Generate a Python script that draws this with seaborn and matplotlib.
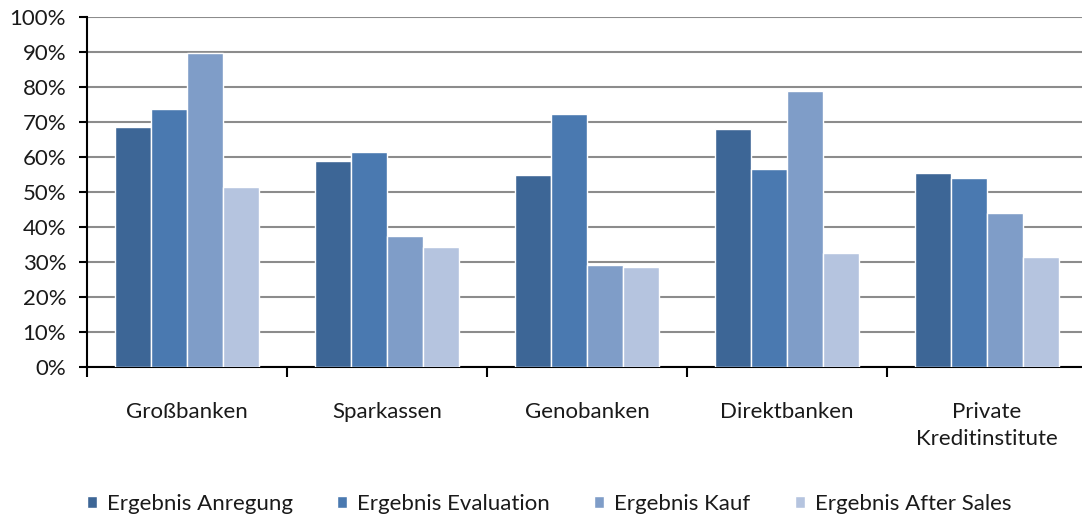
import seaborn as sns
import matplotlib.pyplot as plt
import pandas as pd
from matplotlib.ticker import PercentFormatter, FixedLocator

# Bankengruppen und Ergebnisse je Phase (Anteil in %)
categories = ['Großbanken', 'Sparkassen', 'Genobanken', 'Direktbanken', 'Private\nKreditinstitute']
series = ['Ergebnis Anregung', 'Ergebnis Evaluation', 'Ergebnis Kauf', 'Ergebnis After Sales']
anregung = [68.7, 58.8, 55.0, 68.1, 55.5]
evaluation = [73.6, 61.4, 72.3, 56.6, 54.0]
kauf = [89.8, 37.5, 29.2, 78.8, 44.0]
after_sales = [51.4, 34.2, 28.7, 32.5, 31.4]
y_ticks = [0, 10, 20, 30, 40, 50, 60, 70, 80, 90, 100]

if __name__ == '__main__':
    sns.set_theme(style="white")
    plt.rcParams['font.family'] = ['Lato', 'DejaVu Sans']

    rows = []
    for name, vals in zip(series, [anregung, evaluation, kauf, after_sales]):
        for cat, v in zip(categories, vals):
            rows.append({'Bank': cat, 'Serie': name, 'Wert': v})
    df = pd.DataFrame(rows)

    palette = {'Ergebnis Anregung': '#3D6696', 'Ergebnis Evaluation': '#4A79B0',
               'Ergebnis Kauf': '#7F9DC8', 'Ergebnis After Sales': '#B5C4DF'}

    fig = plt.figure(figsize=(10.82, 5.16), dpi=100)
    ax = fig.add_axes([87 / 1082, 149 / 516, 1000 / 1082, 350 / 516])
    sns.barplot(data=df, x='Bank', y='Wert', hue='Serie', palette=palette,
                width=0.72, edgecolor='white', linewidth=1, saturation=1, ax=ax, zorder=3)

    ax.set_ylim(0, 100)
    ax.set_xlim(-0.5, 4.5)
    ax.yaxis.set_major_locator(FixedLocator(y_ticks))
    ax.yaxis.set_major_formatter(PercentFormatter(decimals=0))
    ax.grid(axis='y', color='#8c8c8c', linewidth=1.5, zorder=0)
    ax.set_axisbelow(True)
    for s in ['top', 'right']:
        ax.spines[s].set_visible(False)
    for s in ['left', 'bottom']:
        ax.spines[s].set_color('black')
        ax.spines[s].set_linewidth(1.5)

    ax.set_xlabel('')
    ax.set_ylabel('')
    ax.set_xticks(range(len(categories)))
    ax.set_xticklabels(categories, fontsize=16, color='#1a1a1a', linespacing=1.45)
    ax.set_xticks([i - 0.5 for i in range(len(categories) + 1)], minor=True)
    ax.tick_params(axis='x', which='major', bottom=True, length=0, pad=25)
    ax.tick_params(axis='x', which='minor', bottom=True, length=7, width=1.5, color='black',
                   direction='out')
    ax.tick_params(axis='y', which='major', length=6, width=1.5, color='black', direction='out',
                   labelsize=16, labelcolor='#1a1a1a', left=True, pad=9)

    handles, labels = ax.get_legend_handles_labels()
    ax.legend(handles, labels, loc='lower center', bbox_to_anchor=(0.462, -0.478), ncol=4,
              frameon=False, fontsize=16, handlelength=0.45, handleheight=0.45,
              handletextpad=0.45, columnspacing=2.0, labelcolor='#1a1a1a')

    fig.savefig('out.png', dpi=100)
